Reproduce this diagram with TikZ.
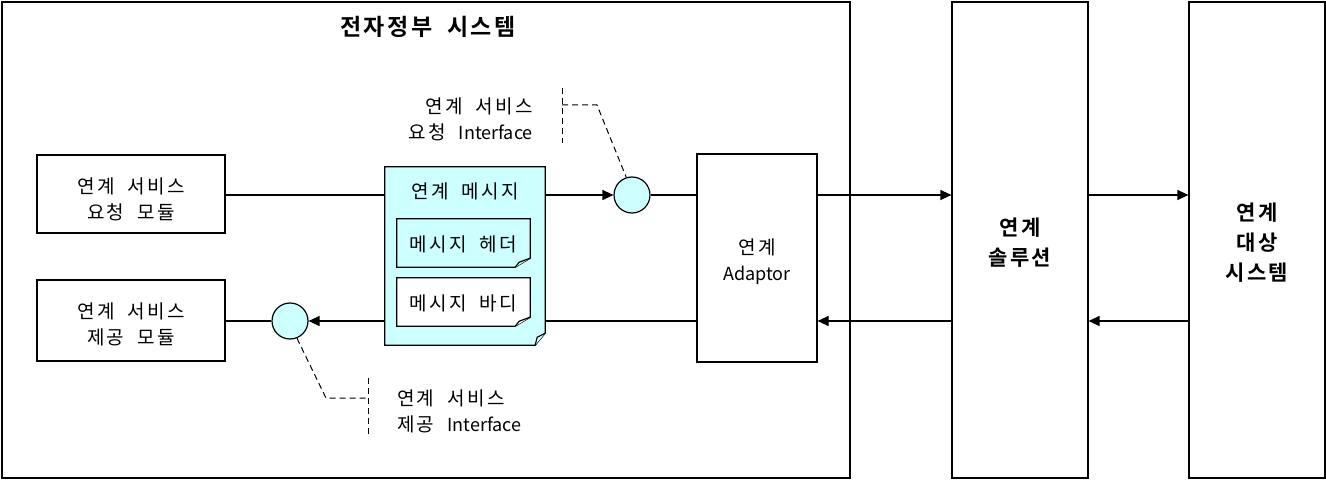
\documentclass[tikz,border=0pt]{standalone}
\usepackage{fontspec}
\newfontfamily\kr[LetterSpace=12,WordSpace=2.0]{Noto Sans CJK KR}
\newfontfamily\krb[LetterSpace=11,WordSpace=1.9]{Noto Sans CJK KR Bold}
\newfontfamily\lt{Noto Sans CJK KR}
\newcommand{\la}[1]{{\lt\fontsize{18}{26}\selectfont #1}}
\usetikzlibrary{arrows.meta}
\definecolor{lcyan}{HTML}{CCFFFF}
\begin{document}
\begin{tikzpicture}[x=1pt,y=-1pt,
  every node/.style={font=\kr\fontsize{19}{26}\selectfont, inner sep=0pt},
  box/.style={draw, line width=1.2pt, fill=white, align=center},
  btxt/.style={align=center, font=\krb\fontsize{21}{30}\selectfont},
  ntxt/.style={align=center},
  ln/.style={line width=1.2pt},
  arr/.style={ln, -{Triangle[length=11pt,width=10pt]}},
  call/.style={line width=1pt, dash pattern=on 6pt off 4pt},
  port/.style={circle, draw, line width=1.2pt, fill=lcyan, minimum size=36pt}]
\useasboundingbox (0,0) rectangle (1326,481);
% frames
\node[box, minimum width=848pt, minimum height=476pt] (sys) at (426,240) {};
\node[font=\krb\fontsize{23}{26}\selectfont] (title) at (428,27) {전자정부 시스템};
\node[box, minimum width=136pt, minimum height=476pt] (sol) at (1020,240) {};
\node[btxt] (solt) at ([yshift=-3pt]sol.center) {연계\\솔루션};
\node[box, minimum width=136pt, minimum height=476pt] (tgt) at (1257,240) {};
\node[btxt] (tgtt) at ([yshift=-3pt]tgt.center) {연계\\대상\\시스템};
% modules
\node[box, minimum width=188pt, minimum height=78pt] (req) at (131,194) {};
\node[ntxt] (reqt) at ([yshift=-5pt]req.center) {연계 서비스\\요청 모듈};
\node[box, minimum width=188pt, minimum height=81pt] (prov) at (131,320.5) {};
\node[ntxt] (provt) at ([yshift=-4pt]prov.center) {연계 서비스\\제공 모듈};
\node[box, minimum width=120pt, minimum height=208pt] (adp) at (757,258) {};
\node[ntxt] (adpt) at ([yshift=-4pt]adp.center) {연계\\\la{Adaptor}};
% message document
\node[minimum width=160pt, minimum height=178pt] (msg) at (465,256) {};
\draw[ln, fill=lcyan] (msg.north west) -- (msg.north east) -- ([yshift=12pt]msg.south east)
  -- ([xshift=-10pt]msg.south east) -- (msg.south west) -- cycle;
\draw[ln, fill=lcyan] ([yshift=12pt]msg.south east) -- ([xshift=-8pt,yshift=8pt]msg.south east) -- ([xshift=-10pt]msg.south east);
\node (msgt) at (465,191) {연계 메시지};
\foreach \n/\yy/\col in {hdr/243/lcyan, bdy/302/white}{
  \node[minimum width=133pt, minimum height=48pt] (\n) at (463.5,\yy) {};
  \draw[ln, fill=\col] (\n.north west) -- (\n.north east) -- ([yshift=9pt]\n.south east)
    -- ([xshift=-15pt]\n.south east) -- (\n.south west) -- cycle;
  \draw[ln, fill=\col] ([yshift=9pt]\n.south east) -- ([xshift=-11pt,yshift=5pt]\n.south east) -- ([xshift=-15pt]\n.south east);
}
\node (hdrt) at ([yshift=-1pt]hdr.center) {메시지 헤더};
\node (bdyt) at ([yshift=-1pt]bdy.center) {메시지 바디};
% ports
\node[port] (ci1) at (632,195) {};
\node[port] (ci2) at (290,321) {};
% top flow
\draw[ln] (req.east |- ci1) -- (msg.west |- ci1);
\draw[arr] (msg.east |- ci1) -- (ci1.west);
\draw[ln] (ci1.east) -- (adp.west |- ci1);
\draw[arr] (adp.east |- ci1) -- (sol.west |- ci1);
\draw[arr] (sol.east |- ci1) -- (tgt.west |- ci1);
% bottom flow
\draw[arr] (tgt.west |- ci2) -- (sol.east |- ci2);
\draw[arr] (sol.west |- ci2) -- (adp.east |- ci2);
\draw[ln] (adp.west |- ci2) -- (msg.east |- ci2);
\draw[arr] (msg.west |- ci2) -- (ci2.east);
\draw[ln] (ci2.west) -- (prov.east |- ci2);
% callouts
\coordinate (t1) at (562,88); \coordinate (t2) at (562,143);
\coordinate (tk) at (597,105);
\draw[call] (t1) -- (t2);
\draw[call] (t1 |- tk) -- (tk) -- (ci1.108);
\node[anchor=east, align=right] (tlab) at (533,119) {연계 서비스\\요청 \la{Interface}};
\coordinate (b1) at (368,378); \coordinate (b2) at (368,436);
\coordinate (bk) at (326,398);
\draw[call] (b1) -- (b2);
\draw[call] (ci2.-68) -- (bk) -- (b1 |- bk);
\node[anchor=west, align=left] (blab) at (397,411) {연계 서비스\\제공 \la{Interface}};
\end{tikzpicture}
\end{document}
